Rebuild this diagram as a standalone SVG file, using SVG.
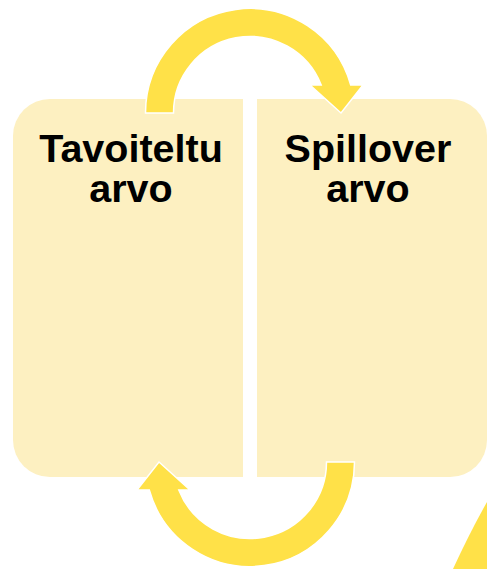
<svg xmlns="http://www.w3.org/2000/svg" width="487" height="569" viewBox="0 0 487 569">
  <style>
    .box { fill: #FDF0C1; }
    .arrow { fill: #FFE148; stroke: #FFFFFF; stroke-width: 1.5; stroke-linejoin: miter; }
    .label { font-family: "Liberation Sans", Arial, sans-serif; font-weight: bold; font-size: 39.5px; fill: #000000; text-anchor: middle; }
  </style>
  <defs>
    <path id="cycleArrow" d="M 145.5 113 A 104.5 104.5 0 0 1 350.7 85 L 363 85 L 341 113 L 310 85 L 321.2 85 A 76.5 76.5 0 0 0 173.5 113 Z"/>
  </defs>
  <rect width="487" height="569" fill="#FFFFFF"/>
  <g id="node-tavoiteltu">
    <path class="box" d="M 50 99 H 243 V 477 H 50 A 37 37 0 0 1 13 440 V 136 A 37 37 0 0 1 50 99 Z"/>
    <text class="label" x="131" y="162">Tavoiteltu</text>
    <text class="label" x="131" y="202">arvo</text>
  </g>
  <g id="node-spillover">
    <path class="box" d="M 257 99 H 450 A 37 37 0 0 1 487 136 V 440 A 37 37 0 0 1 450 477 H 257 Z"/>
    <text class="label" x="368" y="162">Spillover</text>
    <text class="label" x="368" y="202">arvo</text>
  </g>
  <g id="connectors">
    <use href="#cycleArrow" class="arrow"/>
    <use href="#cycleArrow" class="arrow" transform="rotate(180 250 287.5)"/>
    <path fill="#FFE148" d="M 487 502 Q 470 532 453 569 L 487 569 Z"/>
  </g>
</svg>
